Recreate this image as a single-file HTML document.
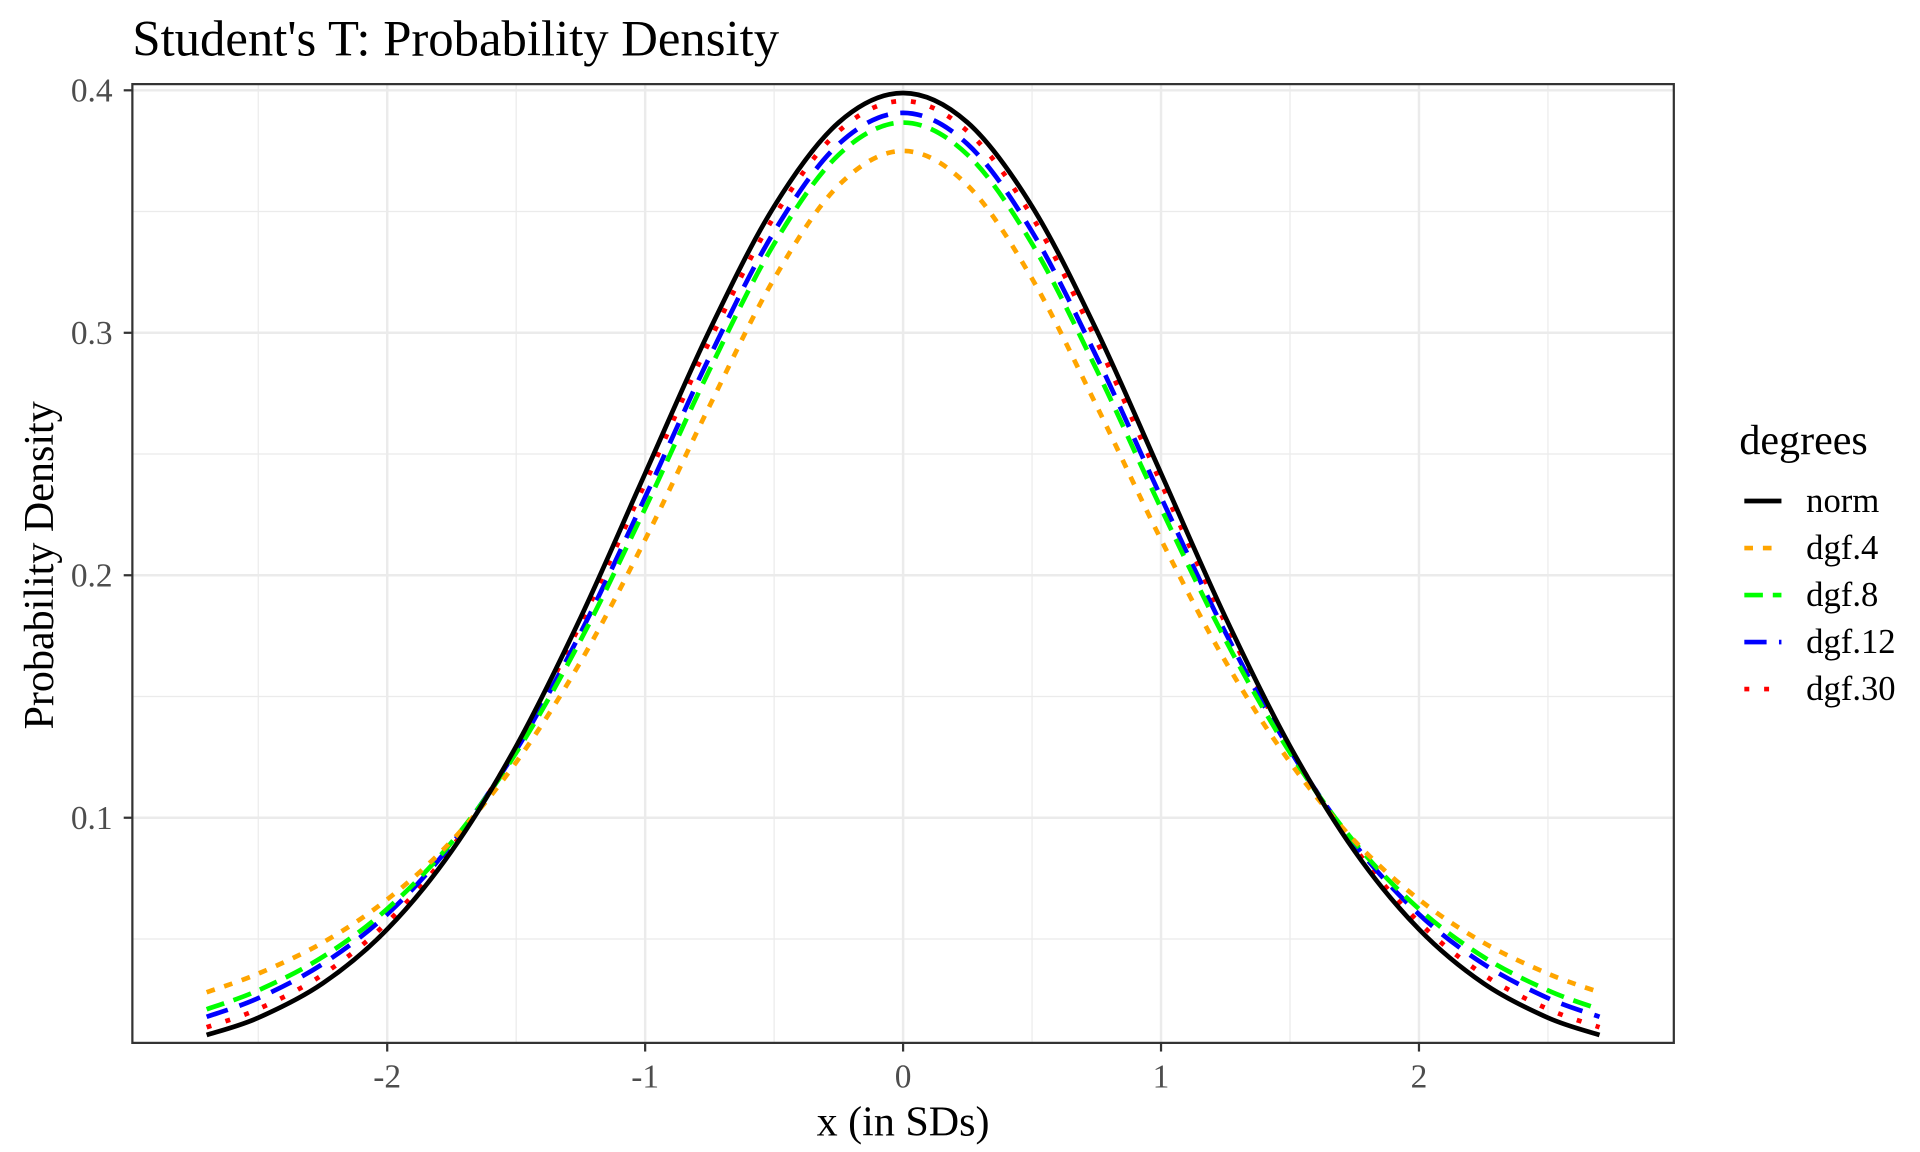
<!DOCTYPE html>
<html><head><meta charset="utf-8"><style>
html,body{margin:0;padding:0;background:#fff;}
svg{display:block;font-family:"Liberation Serif","Times New Roman",serif;}
</style></head><body>
<svg id="chart" width="1920" height="1152" viewBox="0 0 1552 931.2" xmlns="http://www.w3.org/2000/svg">
<rect width="1552" height="931.2" fill="#fff"/>
<text x="107" y="45" font-size="41" fill="#000">Student's T: Probability Density</text>
<g id="grid"></g>
<g id="series"></g>
<rect x="107" y="68" width="1246" height="775" fill="none" stroke="#333" stroke-width="1.8"/>
<g id="axes"></g>
<text x="730" y="918" font-size="34" text-anchor="middle">x (in SDs)</text>
<text transform="translate(43,457) rotate(-90)" font-size="34" text-anchor="middle">Probability Density</text>
<g id="legend"></g>
</svg>
<script>
const xs=[-2.7,-2.5,-2.25,-2,-1.75,-1.5,-1.25,-1,-0.75,-0.5,-0.25,0,0.25,0.5,0.75,1,1.25,1.5,1.75,2,2.25,2.5,2.7];
const half=a=>a.slice().reverse().concat(a.slice(1));
const normVals=half([0.3989,0.3867,0.3521,0.3011,0.2420,0.1826,0.1295,0.0863,0.0540,0.0317,0.0175,0.0104]);
const dgf4Vals=half([0.375,0.3608,0.3223,0.2699,0.2147,0.1644,0.1229,0.0905,0.0663,0.0485,0.0357,0.0280]);
const dgf8Vals=half([0.3867,0.3734,0.3367,0.2848,0.2276,0.1733,0.1268,0.0899,0.0624,0.0426,0.0288,0.0210]);
const dgf12Vals=half([0.3907,0.3778,0.3417,0.2901,0.2322,0.1763,0.1279,0.0892,0.0602,0.0397,0.0256,0.0179]);
const dgf30Vals=half([0.3956,0.3831,0.3479,0.2966,0.2380,0.1801,0.1290,0.0877,0.0569,0.0353,0.0211,0.0136]);
const xTicks=[-2,-1,0,1,2];
const xTickLabels=["-2","-1","0","1","2"];
const xMinor=[-2.5,-1.5,-0.5,0.5,1.5,2.5];
const yTicks=[0.1,0.2,0.3,0.4];
const yTickLabels=["0.1","0.2","0.3","0.4"];
const yMinor=[0.05,0.15,0.25,0.35];
const seriesNames=["norm","dgf.4","dgf.8","dgf.12","dgf.30"];

const NS="http://www.w3.org/2000/svg";
const X=v=>730+v*208.5, Y=v=>857-v*1960;
const L=107,R=1353,T=68,B=843;
function mk(tag,attrs,parent){const e=document.createElementNS(NS,tag);for(const k in attrs)e.setAttribute(k,attrs[k]);parent.appendChild(e);return e;}
const grid=document.getElementById('grid'),axes=document.getElementById('axes'),ser=document.getElementById('series'),leg=document.getElementById('legend');
xMinor.forEach(v=>{const e=mk('line',{x1:X(v),x2:X(v),y1:T,y2:B,stroke:'#ebebeb','stroke-width':1},grid);

});
yMinor.forEach(v=>{const e=mk('line',{x1:L,x2:R,y1:Y(v),y2:Y(v),stroke:'#ebebeb','stroke-width':1},grid);

});
xTicks.forEach((v,i)=>{const g=mk('line',{x1:X(v),x2:X(v),y1:T,y2:B,stroke:'#ebebeb','stroke-width':2},grid);


const t=mk('line',{x1:X(v),x2:X(v),y1:B,y2:B+7,stroke:'#333','stroke-width':1.8},axes);


const l=mk('text',{x:X(v),y:B+36,'font-size':27,fill:'#4d4d4d','text-anchor':'middle'},axes);l.textContent=xTickLabels[i];

});
yTicks.forEach((v,i)=>{const g=mk('line',{x1:L,x2:R,y1:Y(v),y2:Y(v),stroke:'#ebebeb','stroke-width':2},grid);


const t=mk('line',{x1:L-7,x2:L,y1:Y(v),y2:Y(v),stroke:'#333','stroke-width':1.8},axes);


const l=mk('text',{x:L-16,y:Y(v)+9,'font-size':27,fill:'#4d4d4d','text-anchor':'end'},axes);l.textContent=yTickLabels[i];

});
function pathFor(vals){const p=xs.map((x,i)=>[X(x),Y(vals[i])]);let d='M'+p[0][0]+','+p[0][1];
for(let i=0;i<p.length-1;i++){const p0=p[Math.max(0,i-1)],p1=p[i],p2=p[i+1],p3=p[Math.min(p.length-1,i+2)];
d+=' C'+(p1[0]+(p2[0]-p0[0])/6)+','+(p1[1]+(p2[1]-p0[1])/6)+' '+(p2[0]-(p3[0]-p1[0])/6)+','+(p2[1]-(p3[1]-p1[1])/6)+' '+p2[0]+','+p2[1];}return d;}
const styles=[{c:'#000',d:'none'},{c:'#FFA500',d:'7,8'},{c:'#00FF00',d:'15,8'},{c:'#0000FF',d:'18,10'},{c:'#FF0000',d:'4,12'}];
const allVals=[normVals,dgf4Vals,dgf8Vals,dgf12Vals,dgf30Vals];
[4,3,2,1,0].forEach(i=>{const e=mk('path',{d:pathFor(allVals[i]),fill:'none',stroke:styles[i].c,'stroke-width':3.8,'stroke-dasharray':styles[i].d},ser);

});
const lt=mk('text',{x:1406,y:367,'font-size':34},leg);lt.textContent='degrees';


seriesNames.forEach((n,i)=>{const y=405+i*38;
const k=mk('line',{x1:1410,x2:1440,y1:y,y2:y,stroke:styles[i].c,'stroke-width':3.8,'stroke-dasharray':styles[i].d},leg);


const t=mk('text',{x:1460,y:y+9,'font-size':28},leg);t.textContent=n;

});
</script>
</body></html>
